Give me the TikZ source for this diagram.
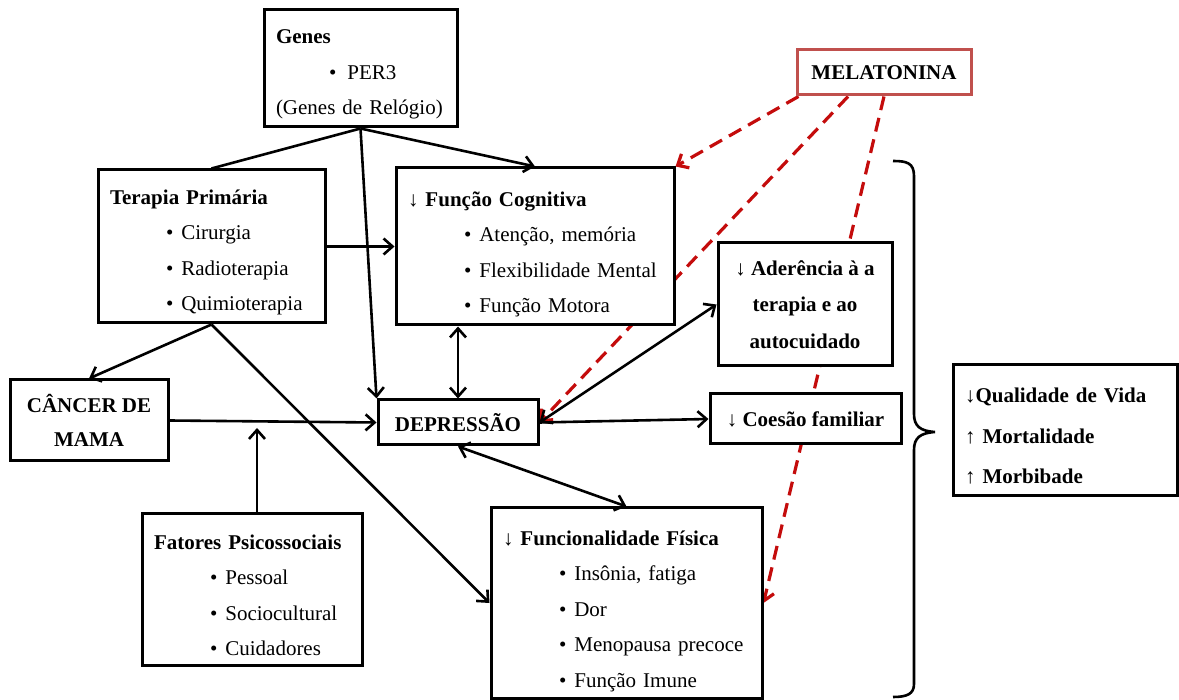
\documentclass[tikz,border=0pt]{standalone}
\usepackage{fontspec}
\setmainfont{Liberation Serif}
\usepackage{tikz}
\usetikzlibrary{arrows.meta,calc,backgrounds}
\definecolor{melred}{RGB}{192,80,77}
\definecolor{dashred}{RGB}{196,12,12}
\newcommand{\bul}[1]{\hspace*{56pt}•\hspace{8pt}#1}

\begin{document}
\begin{tikzpicture}[x=1pt,y=-1pt,
	box/.style={draw, line width=3pt, fill=white, inner xsep=12pt, inner ysep=0pt, align=left, font=\fontsize{21}{35.5}\selectfont},
	listbox/.style={box, execute at begin node={\rule{0pt}{#1}}},
	listbox/.default=26pt,
	link/.style={line width=2.6pt, -{Straight Barb[length=9pt,width=16pt]}},
	both/.style={line width=2.6pt, {Straight Barb[length=9pt,width=16pt]}-{Straight Barb[length=9pt,width=16pt]}},
	mel/.style={line width=3.2pt, dashred, dash pattern=on 14pt off 8pt, -{Straight Barb[length=9pt,width=16pt]}}]
	\useasboundingbox (0,0) rectangle (1179,700);
	% boxes
	\node[listbox, text width=169pt, minimum height=117pt] (genes) at (360.5,68.5) {\textbf{Genes}\\\hspace*{53pt}•\hspace{11pt}PER3\\(Genes de Relógio)};
	\node[box, draw=melred, align=center, minimum width=174pt, minimum height=45pt] (mela) at (884,72.5) {\textbf{MELATONINA}};
	\node[listbox, text width=203pt, minimum height=153pt] (ter) at (211.5,246.5) {\textbf{Terapia Primária}\\\bul{Cirurgia}\\\bul{Radioterapia}\\\bul{Quimioterapia}};
	\node[listbox=30pt, text width=254pt, minimum height=157pt] (cog) at (535,246.5) {\textbf{↓ Função Cognitiva}\\\bul{Atenção, memória}\\\bul{Flexibilidade Mental}\\\bul{Função Motora}};
	\node[listbox, align=center, minimum width=174pt, minimum height=123pt, font=\fontsize{21}{36.5}\selectfont] (ader) at (805,304.5) {\textbf{↓ Aderência à a}\\\textbf{terapia e ao}\\\textbf{autocuidado}};
	\node[box, align=center, minimum width=158pt, minimum height=81pt, font=\fontsize{21}{34}\selectfont] (cancer) at (89,420.5) {\textbf{CÂNCER DE}\\\textbf{MAMA}};
	\node[box, align=center, minimum width=160pt, minimum height=45pt] (dep) at (458,422.5) {\textbf{DEPRESSÃO}};
	\node[box, align=center, minimum width=191pt, minimum height=50pt] (coes) at (805.5,419) {\textbf{↓ Coesão familiar}};
	\node[listbox, text width=200pt, minimum height=131pt] (qual) at (1065,430.5) {\textbf{↓Qualidade de Vida}\\[5pt]\textbf{↑ Mortalidade}\\[5pt]\textbf{↑ Morbibade}};
	\node[listbox, text width=196pt, minimum height=151pt] (fat) at (252,589.5) {\textbf{Fatores Psicossociais}\\\bul{Pessoal}\\\bul{Sociocultural}\\\bul{Cuidadores}};
	\node[listbox=31pt, text width=247pt, minimum height=190pt] (func) at (626.5,603) {\textbf{↓ Funcionalidade Física}\\\bul{Insônia, fatiga}\\\bul{Dor}\\\bul{Menopausa precoce}\\\bul{Função Imune}};
	\coordinate (psitip) at (257,428);
	% black links
	\draw[line width=2.6pt] (genes.south) -- (ter.north);
	\draw[link] (genes.south) -- (cog.north);
	\draw[link] (genes.south) -- (dep.north west);
	\draw[link] (ter.east) -- (cog.west);
	\draw[link] (ter.south) -- (cancer.north);
	\draw[link] (ter.south) -- (func.west);
	\draw[link] (cancer.east) -- (dep.west);
	\draw[link] (fat.north -| psitip) -- (psitip);
	\draw[both] (dep.north) -- (dep.north |- cog.south);
	\draw[both] (dep.east) -- (ader.west);
	\draw[link] (dep.east) -- (coes.west);
	\draw[both] (dep.south) -- (func.north);
	% melatonina
	\begin{scope}[on background layer]
		\draw[mel] ($(mela.south west)+(3,0)$) -- (cog.north east);
		\draw[mel] ($(mela.south)+(-36,0)$) -- (dep.east);
		\draw[mel] (mela.south) -- (func.east);
	\end{scope}
	% brace
	\draw[line width=2.6pt] (893,161) .. controls (907,161) and (914,163) .. (914,176) -- (914,414)
		.. controls (914,426) and (920,431) .. (935,432) .. controls (920,433) and (914,438) .. (914,450)
		-- (914,684) .. controls (914,694) and (907,697) .. (893,697);
\end{tikzpicture}
\end{document}
